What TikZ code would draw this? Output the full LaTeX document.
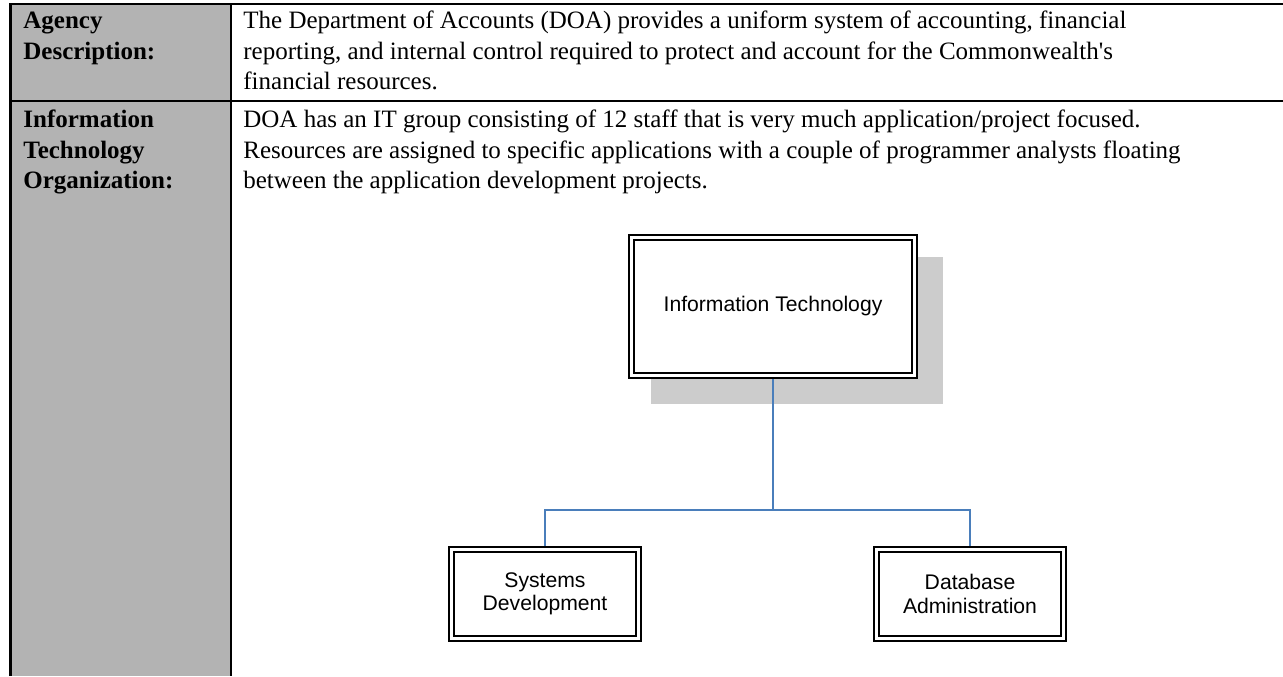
\documentclass[tikz,border=0pt]{standalone}
\usepackage{fontspec}
\setmainfont{Liberation Serif}[Ligatures=TeXOff]
\newfontfamily\chartfont{Liberation Sans}
\usetikzlibrary{calc,backgrounds}
\definecolor{cellgray}{RGB}{179,179,179}
\definecolor{shadowgray}{RGB}{204,204,204}
\definecolor{linkblue}{RGB}{74,126,187}
\tikzset{
  rule/.style={line width=1.3pt},
  bodytext/.style={anchor=north west, inner sep=0pt, align=left,
    font=\fontsize{13}{16}\selectfont},
  headtext/.style={bodytext, font=\fontsize{13}{16}\selectfont\bfseries},
  unit/.style={draw, double, line width=1pt, double distance=1.4pt,
    fill=white, inner sep=0pt, align=center,
    font=\chartfont\fontsize{11}{12.2}\selectfont,
    minimum width=97.4pt, minimum height=46.5pt},
  head unit/.style={unit, minimum width=147.4pt, minimum height=72pt,
    font=\chartfont\fontsize{11}{13}\selectfont},
  link/.style={draw=linkblue, line width=1.1pt},
}
\begin{document}
\begin{tikzpicture}[x=0.52pt, y=-0.52pt]
  \useasboundingbox (0,0) rectangle (1283,676);
  % table
  \fill[cellgray] (10.5,4) rectangle (231,676);
  \draw[rule] (10.5,676) -- (10.5,4) -- (1283,4);
  \draw[rule] (10.5,101) -- (1283,101);
  \draw[rule] (231,4) -- (231,676);
  \node[headtext] (agency) at (23,6.5) {\strut Agency\\Description:};
  \node[headtext] (itorg) at (23,105.5) {\strut Information\\Technology\\Organization:};
  \node[bodytext] (desc) at (243,6.5) {\strut The Department of Accounts (DOA) provides a uniform system of accounting, financial\\
    reporting, and internal control required to protect and account for the Commonwealth's\\
    financial resources.};
  \node[bodytext] (orgtext) at (243,105.5) {\strut DOA has an IT group consisting of 12 staff that is very much application/project focused.\\
    Resources are assigned to specific applications with a couple of programmer analysts floating\\
    between the application development projects.};
  % chart
  \node[head unit] (it) at (773,306.5) {Information Technology};
  \node[unit] (sd) at (545,594) {Systems\\Development};
  \node[unit] (da) at (970,594) {Database\\Administration};
  \coordinate (fork) at (773,510);
  \begin{scope}[on background layer]
    \fill[shadowgray] ($(it.south west)+(20.7,27.3)$) rectangle ($(it.north east)+(27.3,20.7)$);
    \draw[link] (it.south) -- (fork) -| (sd.north);
    \draw[link] (fork) -| (da.north);
  \end{scope}
\end{tikzpicture}
\end{document}
